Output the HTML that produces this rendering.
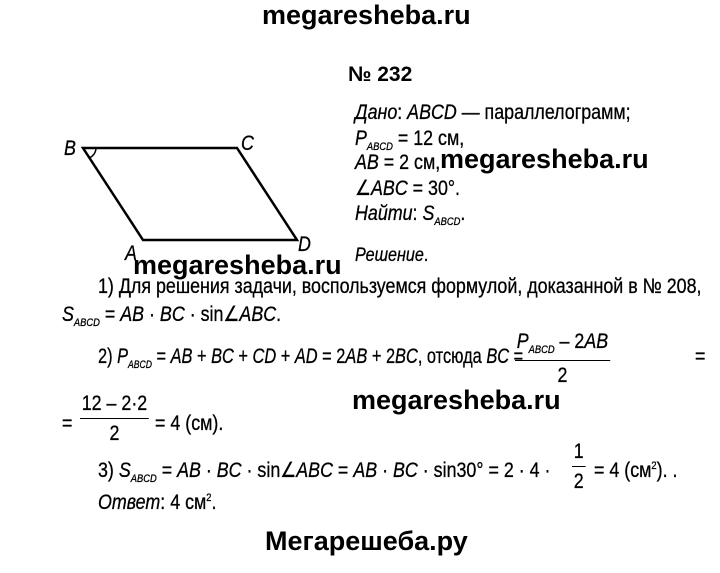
<!DOCTYPE html>
<html><head><meta charset="utf-8"><style>
body{margin:0;width:720px;height:573px;background:#fff;position:relative;overflow:hidden;font-family:"Liberation Sans",sans-serif;color:#000}
.t{position:absolute;white-space:nowrap;font-size:21px;line-height:1;transform:scaleX(.85);transform-origin:left top;-webkit-text-stroke:0.3px #000}
.w{position:absolute;white-space:nowrap;font-weight:bold;font-size:27px;line-height:1}
i{font-style:italic}
sub{font-size:11px;vertical-align:-5px;font-style:italic}
sup{font-size:11px}
.fr{position:absolute;text-align:center;font-size:21px;line-height:1;white-space:nowrap;-webkit-text-stroke:0.3px #000}
.fr .n{border-bottom:1px solid #000;padding:0 2px 4px}
.fr .d{padding-top:4px}
</style></head><body>
<div class="w" style="left:262px;top:2px">megaresheba.ru</div>
<div class="w" style="left:348px;top:64px;font-size:21px">№ 232</div>
<div class="t" style="left:355px;top:102px"><i>Дано</i>: <i>ABCD</i> — параллелограмм;</div>
<div class="t" style="left:355px;top:128px"><i>P</i><sub>ABCD</sub> = 12 см,</div>
<div class="t" style="left:355px;top:152px"><i>AB</i> = 2 см,</div>
<div class="w" style="left:440px;top:146px">megaresheba.ru</div>
<div class="t" style="left:355px;top:178px">∠<i>ABC</i> = 30°.</div>
<div class="t" style="left:355px;top:203px"><i>Найти</i>: <i>S</i><sub>ABCD</sub>.</div>
<div class="t" style="left:355px;top:246px;font-size:19px"><i>Решение</i>.</div>
<svg style="position:absolute;left:0;top:0" width="720" height="573">
<polygon points="83,148 237,148 297,240 143,240" fill="none" stroke="#000" stroke-width="2.5"/>
<path d="M89,158 A11,11 0 0 0 96,148" fill="none" stroke="#000" stroke-width="1.5"/>
</svg>
<div class="t" style="left:64px;top:138px"><i>B</i></div>
<div class="t" style="left:241px;top:133px"><i>C</i></div>
<div class="t" style="left:125px;top:243px"><i>A</i></div>
<div class="t" style="left:298px;top:234px"><i>D</i></div>
<div class="w" style="left:133px;top:252px">megaresheba.ru</div>
<div class="t" style="left:98px;top:276px">1) Для решения задачи, воспользуемся формулой, доказанной в № 208,</div>
<div class="t" style="left:62px;top:304px"><i>S</i><sub>ABCD</sub> = <i>AB</i> · <i>BC</i> · sin∠<i>ABC</i>.</div>
<div class="t" style="left:98px;top:346px;transform:scaleX(.78)">2) <i>P</i><sub>ABCD</sub> = <i>AB</i> + <i>BC</i> + <i>CD</i> + <i>AD</i> = 2<i>AB</i> + 2<i>BC</i>, отсюда <i>BC</i> =</div>
<div class="fr" style="left:515px;top:331px;transform:scaleX(.85);transform-origin:left top"><div class="n"><i>P</i><sub>ABCD</sub> – 2<i>AB</i></div><div class="d">2</div></div>
<div class="t" style="left:695px;top:346px">=</div>
<div class="t" style="left:62px;top:413px">=</div>
<div class="fr" style="left:80px;top:393px;transform:scaleX(.85);transform-origin:left top"><div class="n">12 – 2·2</div><div class="d">2</div></div>
<div class="t" style="left:155px;top:413px">= 4 (см).</div>
<div class="w" style="left:352px;top:387px">megaresheba.ru</div>
<div class="t" style="left:98px;top:460px">3) <i>S</i><sub>ABCD</sub> = <i>AB</i> · <i>BC</i> · sin∠<i>ABC</i> = <i>AB</i> · <i>BC</i> · sin30° = 2 · 4 ·</div>
<div class="fr" style="left:572px;top:441px;transform:scaleX(.85);transform-origin:left top"><div class="n">1</div><div class="d">2</div></div>
<div class="t" style="left:594px;top:460px">= 4 (см<sup>2</sup>). .</div>
<div class="t" style="left:98px;top:492px"><i>Ответ</i>: 4 см<sup>2</sup>.</div>
<div class="w" style="left:265px;top:528px">Мегарешеба.ру</div>
</body></html>
